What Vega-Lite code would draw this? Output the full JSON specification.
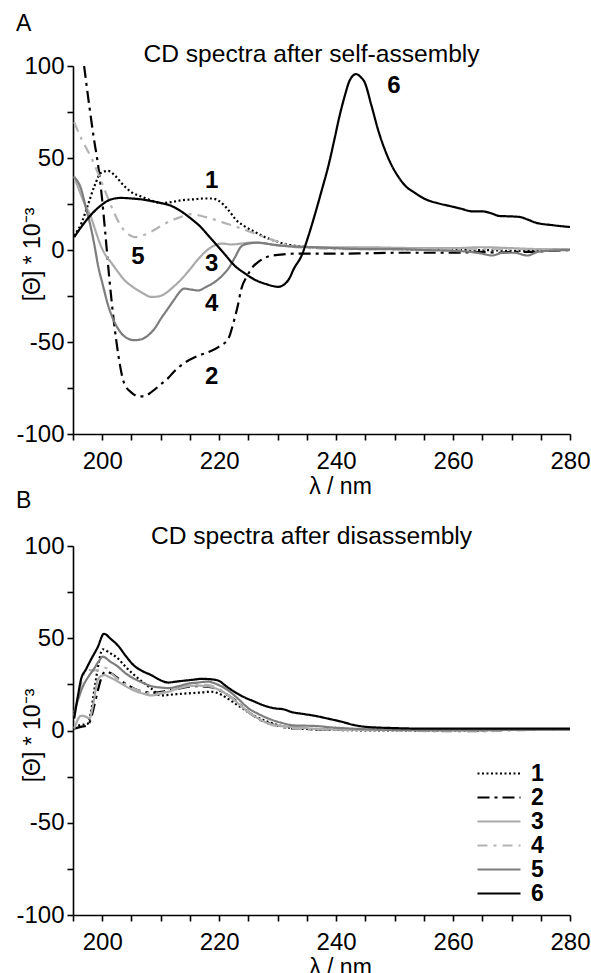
{
  "$schema": "https://vega.github.io/schema/vega-lite/v6.json",
  "padding": {"left": 15, "top": 13, "right": 5, "bottom": 0},
  "background": "white",
  "spacing": -8,
  "resolve": {"scale": {"color": "independent", "strokeDash": "independent"}, "legend": {"color": "independent", "strokeDash": "independent"}},
  "datasets": {
    "a": [
      {"s":"1","x":195.2,"y":7.7},{"s":"1","x":196.5,"y":15},{"s":"1","x":197.5,"y":24},{"s":"1","x":198.7,"y":35},{"s":"1","x":199.8,"y":42},{"s":"1","x":201,"y":43},{"s":"1","x":202.3,"y":40},{"s":"1","x":203.7,"y":35},{"s":"1","x":205.2,"y":31},{"s":"1","x":206.7,"y":29},{"s":"1","x":208.3,"y":27},{"s":"1","x":210,"y":25.5},{"s":"1","x":211.8,"y":26},{"s":"1","x":213.5,"y":27},{"s":"1","x":215.5,"y":27.5},{"s":"1","x":217.5,"y":28},{"s":"1","x":218.7,"y":28},{"s":"1","x":219.8,"y":27},{"s":"1","x":220.8,"y":24.5},{"s":"1","x":222,"y":20},{"s":"1","x":222.7,"y":17},{"s":"1","x":224.3,"y":13},{"s":"1","x":226,"y":10},{"s":"1","x":227.8,"y":7},{"s":"1","x":229.5,"y":5},{"s":"1","x":231,"y":3.5},{"s":"1","x":232.9,"y":2.3},{"s":"1","x":236,"y":1.5},{"s":"1","x":240,"y":1},{"s":"1","x":245,"y":0.8},{"s":"1","x":250,"y":0.5},{"s":"1","x":255,"y":0.3},{"s":"1","x":260,"y":0},{"s":"1","x":265,"y":0},{"s":"1","x":270,"y":-0.5},{"s":"1","x":275,"y":0},{"s":"1","x":280,"y":0},
      {"s":"2","x":196.9,"y":100},{"s":"2","x":197.8,"y":78},{"s":"2","x":198.6,"y":60},{"s":"2","x":199.3,"y":46},{"s":"2","x":199.9,"y":30},{"s":"2","x":200.5,"y":10},{"s":"2","x":201.2,"y":-15},{"s":"2","x":202,"y":-39},{"s":"2","x":202.8,"y":-58},{"s":"2","x":203.7,"y":-72},{"s":"2","x":205,"y":-77.5},{"s":"2","x":206.2,"y":-79.5},{"s":"2","x":207.2,"y":-79.5},{"s":"2","x":208.5,"y":-77},{"s":"2","x":210,"y":-73},{"s":"2","x":211.3,"y":-69.5},{"s":"2","x":212.3,"y":-66},{"s":"2","x":214,"y":-61.5},{"s":"2","x":216,"y":-58},{"s":"2","x":218.1,"y":-55.5},{"s":"2","x":220,"y":-52.5},{"s":"2","x":221.6,"y":-48},{"s":"2","x":222.4,"y":-40},{"s":"2","x":223.2,"y":-30},{"s":"2","x":223.8,"y":-21},{"s":"2","x":224.8,"y":-14},{"s":"2","x":225.8,"y":-9},{"s":"2","x":226.7,"y":-6.5},{"s":"2","x":228.4,"y":-3.5},{"s":"2","x":230.5,"y":-2.5},{"s":"2","x":232.9,"y":-2},{"s":"2","x":236,"y":-2},{"s":"2","x":240,"y":-2},{"s":"2","x":245,"y":-1.8},{"s":"2","x":250,"y":-1.5},{"s":"2","x":255,"y":-1.5},{"s":"2","x":260,"y":-1.5},{"s":"2","x":265,"y":-1},{"s":"2","x":268,"y":-1.5},{"s":"2","x":270,"y":-1},{"s":"2","x":273,"y":-1},{"s":"2","x":276,"y":-0.5},{"s":"2","x":280,"y":0},
      {"s":"3","x":195.2,"y":40},{"s":"3","x":196,"y":33},{"s":"3","x":197,"y":25},{"s":"3","x":198,"y":18.5},{"s":"3","x":198.9,"y":10},{"s":"3","x":199.8,"y":2},{"s":"3","x":200.6,"y":-3},{"s":"3","x":201.5,"y":-6.7},{"s":"3","x":202.6,"y":-11.5},{"s":"3","x":203.7,"y":-16},{"s":"3","x":205.2,"y":-20},{"s":"3","x":206.7,"y":-23},{"s":"3","x":208.4,"y":-25.5},{"s":"3","x":209.5,"y":-25.3},{"s":"3","x":210.6,"y":-24},{"s":"3","x":212,"y":-20.5},{"s":"3","x":213.5,"y":-16},{"s":"3","x":215,"y":-10.5},{"s":"3","x":216.4,"y":-5},{"s":"3","x":217.8,"y":-0.5},{"s":"3","x":219.2,"y":2.5},{"s":"3","x":220.5,"y":3.5},{"s":"3","x":222.1,"y":3},{"s":"3","x":223.8,"y":3.5},{"s":"3","x":225.5,"y":4},{"s":"3","x":228,"y":3.5},{"s":"3","x":230,"y":2.5},{"s":"3","x":233,"y":2},{"s":"3","x":236,"y":1.5},{"s":"3","x":240,"y":1.5},{"s":"3","x":245,"y":1.5},{"s":"3","x":250,"y":1.2},{"s":"3","x":255,"y":1},{"s":"3","x":260,"y":1},{"s":"3","x":265,"y":1.5},{"s":"3","x":270,"y":1},{"s":"3","x":275,"y":0.5},{"s":"3","x":280,"y":0.5},
      {"s":"4","x":195.2,"y":69.5},{"s":"4","x":196.5,"y":60},{"s":"4","x":198,"y":51},{"s":"4","x":199.5,"y":40},{"s":"4","x":201,"y":28},{"s":"4","x":202.2,"y":19},{"s":"4","x":203.2,"y":13},{"s":"4","x":204.3,"y":9},{"s":"4","x":205.5,"y":7},{"s":"4","x":206.8,"y":7.8},{"s":"4","x":208.4,"y":10},{"s":"4","x":210,"y":13},{"s":"4","x":211.8,"y":16},{"s":"4","x":213.5,"y":18},{"s":"4","x":215.2,"y":19.5},{"s":"4","x":217,"y":18.5},{"s":"4","x":218.7,"y":17},{"s":"4","x":220.6,"y":15},{"s":"4","x":222.6,"y":13},{"s":"4","x":224.8,"y":10.5},{"s":"4","x":227.2,"y":7.6},{"s":"4","x":230,"y":4.5},{"s":"4","x":233,"y":1.6},{"s":"4","x":236,"y":1},{"s":"4","x":240,"y":0.5},{"s":"4","x":250,"y":0.5},{"s":"4","x":260,"y":0.5},{"s":"4","x":270,"y":0.5},{"s":"4","x":280,"y":0.5},
      {"s":"5","x":195.2,"y":39.7},{"s":"5","x":196.4,"y":33},{"s":"5","x":197.2,"y":23},{"s":"5","x":198,"y":13},{"s":"5","x":198.7,"y":2},{"s":"5","x":199.3,"y":-8.7},{"s":"5","x":200.1,"y":-19},{"s":"5","x":201,"y":-30},{"s":"5","x":202,"y":-38.5},{"s":"5","x":203.2,"y":-45},{"s":"5","x":204.3,"y":-48},{"s":"5","x":205.5,"y":-49},{"s":"5","x":206.7,"y":-48.5},{"s":"5","x":207.8,"y":-46.5},{"s":"5","x":209,"y":-42.5},{"s":"5","x":210,"y":-37.5},{"s":"5","x":211.2,"y":-32},{"s":"5","x":212.3,"y":-27},{"s":"5","x":213.2,"y":-23},{"s":"5","x":214,"y":-21},{"s":"5","x":215.2,"y":-21.5},{"s":"5","x":216.4,"y":-22},{"s":"5","x":217.8,"y":-20},{"s":"5","x":219.2,"y":-17.5},{"s":"5","x":220.5,"y":-14},{"s":"5","x":221.6,"y":-10},{"s":"5","x":222.7,"y":-4},{"s":"5","x":223.8,"y":2},{"s":"5","x":225,"y":3.5},{"s":"5","x":226.7,"y":4},{"s":"5","x":229,"y":3},{"s":"5","x":231.9,"y":2},{"s":"5","x":236,"y":1.5},{"s":"5","x":240,"y":1},{"s":"5","x":245,"y":0.5},{"s":"5","x":250,"y":0.5},{"s":"5","x":255,"y":0},{"s":"5","x":260,"y":-0.5},{"s":"5","x":263,"y":-1},{"s":"5","x":265,"y":-2},{"s":"5","x":266.7,"y":-3},{"s":"5","x":268.5,"y":-1.5},{"s":"5","x":270.5,"y":-1.5},{"s":"5","x":272.7,"y":-3},{"s":"5","x":274.5,"y":-1},{"s":"5","x":277,"y":-0.3},{"s":"5","x":280,"y":0},
      {"s":"6","x":195.2,"y":7},{"s":"6","x":196.3,"y":12},{"s":"6","x":197.5,"y":17},{"s":"6","x":199.5,"y":23.5},{"s":"6","x":201.5,"y":27.5},{"s":"6","x":203.2,"y":28.3},{"s":"6","x":205,"y":28},{"s":"6","x":206.7,"y":27.5},{"s":"6","x":208.4,"y":26.6},{"s":"6","x":210.1,"y":25.5},{"s":"6","x":211.8,"y":24},{"s":"6","x":213.5,"y":21},{"s":"6","x":215.2,"y":17},{"s":"6","x":217,"y":12},{"s":"6","x":218.1,"y":8},{"s":"6","x":219.5,"y":3},{"s":"6","x":221,"y":-2.5},{"s":"6","x":222.7,"y":-8.7},{"s":"6","x":224.3,"y":-12.5},{"s":"6","x":226,"y":-16},{"s":"6","x":228,"y":-18.5},{"s":"6","x":230.1,"y":-20},{"s":"6","x":231.2,"y":-18.5},{"s":"6","x":231.9,"y":-16},{"s":"6","x":232.8,"y":-10},{"s":"6","x":234.1,"y":-3},{"s":"6","x":235.2,"y":7},{"s":"6","x":236.3,"y":18.5},{"s":"6","x":237.5,"y":32},{"s":"6","x":238.7,"y":46},{"s":"6","x":239.7,"y":60},{"s":"6","x":240.6,"y":73},{"s":"6","x":241.5,"y":84},{"s":"6","x":242.3,"y":92},{"s":"6","x":243.4,"y":95.6},{"s":"6","x":244.2,"y":94},{"s":"6","x":244.9,"y":91},{"s":"6","x":246,"y":79},{"s":"6","x":247.3,"y":64},{"s":"6","x":248.4,"y":54},{"s":"6","x":249.5,"y":46},{"s":"6","x":250.6,"y":40},{"s":"6","x":251.8,"y":35},{"s":"6","x":253.5,"y":31},{"s":"6","x":255.2,"y":27.7},{"s":"6","x":257.3,"y":25.5},{"s":"6","x":259.3,"y":24},{"s":"6","x":261.3,"y":22.5},{"s":"6","x":263.3,"y":21},{"s":"6","x":265,"y":21},{"s":"6","x":266.5,"y":20},{"s":"6","x":267.9,"y":18.5},{"s":"6","x":269.5,"y":18.3},{"s":"6","x":271.3,"y":18},{"s":"6","x":272.8,"y":16.5},{"s":"6","x":274,"y":15},{"s":"6","x":277,"y":13.5},{"s":"6","x":280,"y":12.5}
    ],
    "b": [
      {"s":"1","x":195.2,"y":1.5},{"s":"1","x":196,"y":2.7},{"s":"1","x":197.5,"y":3.6},{"s":"1","x":198,"y":9},{"s":"1","x":198.6,"y":21},{"s":"1","x":199.2,"y":33},{"s":"1","x":199.8,"y":42.5},{"s":"1","x":200.1,"y":44},{"s":"1","x":201.3,"y":42},{"s":"1","x":202.7,"y":39},{"s":"1","x":204,"y":34.5},{"s":"1","x":205.5,"y":30},{"s":"1","x":207,"y":26},{"s":"1","x":208.4,"y":22.7},{"s":"1","x":210,"y":19},{"s":"1","x":212,"y":19.5},{"s":"1","x":214,"y":20},{"s":"1","x":216.5,"y":20.5},{"s":"1","x":218.7,"y":21},{"s":"1","x":220.3,"y":19.5},{"s":"1","x":221.6,"y":17},{"s":"1","x":223.5,"y":13},{"s":"1","x":226,"y":8},{"s":"1","x":228.5,"y":4.5},{"s":"1","x":231.2,"y":2},{"s":"1","x":235,"y":0.8},{"s":"1","x":240,"y":0.3},{"s":"1","x":250,"y":0},{"s":"1","x":260,"y":0},{"s":"1","x":270,"y":0.3},{"s":"1","x":280,"y":0.5},
      {"s":"2","x":195.2,"y":1},{"s":"2","x":196.3,"y":2},{"s":"2","x":197.5,"y":2.7},{"s":"2","x":198.2,"y":8},{"s":"2","x":198.6,"y":13},{"s":"2","x":199.2,"y":21},{"s":"2","x":199.8,"y":28},{"s":"2","x":200.5,"y":32},{"s":"2","x":201.5,"y":31},{"s":"2","x":203,"y":27.5},{"s":"2","x":205,"y":23.5},{"s":"2","x":207,"y":21},{"s":"2","x":209,"y":20.5},{"s":"2","x":211,"y":21.5},{"s":"2","x":213.5,"y":23},{"s":"2","x":216,"y":24},{"s":"2","x":218.5,"y":23.5},{"s":"2","x":220.5,"y":21},{"s":"2","x":222.5,"y":17},{"s":"2","x":225,"y":10},{"s":"2","x":227.5,"y":5},{"s":"2","x":230,"y":2.5},{"s":"2","x":233,"y":1},{"s":"2","x":240,"y":0.5},{"s":"2","x":250,"y":0.3},{"s":"2","x":260,"y":0.3},{"s":"2","x":270,"y":0.3},{"s":"2","x":280,"y":0.5},
      {"s":"3","x":195.2,"y":1},{"s":"3","x":196.4,"y":8},{"s":"3","x":197.2,"y":7.5},{"s":"3","x":197.8,"y":6.5},{"s":"3","x":198.5,"y":15},{"s":"3","x":199.3,"y":28},{"s":"3","x":200.3,"y":30},{"s":"3","x":201.5,"y":28.5},{"s":"3","x":202.7,"y":26.5},{"s":"3","x":204,"y":24},{"s":"3","x":205.5,"y":21.6},{"s":"3","x":207,"y":20},{"s":"3","x":208.4,"y":19},{"s":"3","x":210,"y":20},{"s":"3","x":211.3,"y":21},{"s":"3","x":213,"y":22.8},{"s":"3","x":214.7,"y":24},{"s":"3","x":216.5,"y":24.3},{"s":"3","x":218,"y":24},{"s":"3","x":220,"y":22},{"s":"3","x":221.6,"y":19},{"s":"3","x":223.3,"y":14.5},{"s":"3","x":225,"y":10},{"s":"3","x":226.7,"y":6.5},{"s":"3","x":228.4,"y":3.8},{"s":"3","x":230.5,"y":2.5},{"s":"3","x":232.4,"y":2},{"s":"3","x":236,"y":1},{"s":"3","x":240,"y":0.5},{"s":"3","x":250,"y":0.3},{"s":"3","x":260,"y":0.3},{"s":"3","x":270,"y":0.3},{"s":"3","x":280,"y":0.5},
      {"s":"4","x":195.2,"y":8},{"s":"4","x":196,"y":20},{"s":"4","x":196.8,"y":30},{"s":"4","x":197.5,"y":33},{"s":"4","x":198.5,"y":32.5},{"s":"4","x":199.5,"y":33},{"s":"4","x":200.5,"y":34},{"s":"4","x":201.7,"y":30.5},{"s":"4","x":203,"y":27},{"s":"4","x":204.5,"y":24},{"s":"4","x":206,"y":22},{"s":"4","x":207.5,"y":20.5},{"s":"4","x":209,"y":20},{"s":"4","x":211,"y":21},{"s":"4","x":213,"y":23},{"s":"4","x":215,"y":24.5},{"s":"4","x":217,"y":25},{"s":"4","x":219,"y":24},{"s":"4","x":221,"y":20.5},{"s":"4","x":223,"y":15.5},{"s":"4","x":225,"y":10},{"s":"4","x":227,"y":6},{"s":"4","x":229,"y":3},{"s":"4","x":231,"y":1.8},{"s":"4","x":233,"y":1},{"s":"4","x":240,"y":0.5},{"s":"4","x":250,"y":0},{"s":"4","x":260,"y":-0.5},{"s":"4","x":265,"y":-0.5},{"s":"4","x":270,"y":0},{"s":"4","x":280,"y":0.5},
      {"s":"5","x":195.2,"y":10},{"s":"5","x":196,"y":18},{"s":"5","x":196.7,"y":24},{"s":"5","x":197.6,"y":29},{"s":"5","x":198.6,"y":33.5},{"s":"5","x":199.4,"y":37.5},{"s":"5","x":200.1,"y":40},{"s":"5","x":201.3,"y":37.5},{"s":"5","x":202.7,"y":34.6},{"s":"5","x":204,"y":31},{"s":"5","x":205.5,"y":28},{"s":"5","x":207,"y":25.8},{"s":"5","x":208.4,"y":24},{"s":"5","x":210,"y":23.3},{"s":"5","x":211.3,"y":23},{"s":"5","x":213,"y":24},{"s":"5","x":214.7,"y":25.4},{"s":"5","x":216.4,"y":26},{"s":"5","x":218,"y":26.5},{"s":"5","x":219.8,"y":24.8},{"s":"5","x":221.6,"y":21.6},{"s":"5","x":223.3,"y":17},{"s":"5","x":225,"y":12},{"s":"5","x":226.7,"y":9},{"s":"5","x":228.4,"y":6.5},{"s":"5","x":230.5,"y":4.3},{"s":"5","x":233,"y":2.7},{"s":"5","x":236,"y":2.5},{"s":"5","x":240,"y":1.5},{"s":"5","x":245,"y":0.7},{"s":"5","x":250,"y":0.3},{"s":"5","x":260,"y":0},{"s":"5","x":270,"y":0.3},{"s":"5","x":280,"y":0.5},
      {"s":"6","x":195.2,"y":6.5},{"s":"6","x":195.8,"y":18},{"s":"6","x":196.4,"y":28},{"s":"6","x":197.2,"y":33},{"s":"6","x":198,"y":38},{"s":"6","x":199.2,"y":45},{"s":"6","x":200.3,"y":52.4},{"s":"6","x":201.5,"y":49.5},{"s":"6","x":202.7,"y":46},{"s":"6","x":204,"y":40.5},{"s":"6","x":205.5,"y":35},{"s":"6","x":207,"y":32},{"s":"6","x":208.4,"y":30},{"s":"6","x":209.8,"y":27.5},{"s":"6","x":211.3,"y":26},{"s":"6","x":212.6,"y":26.5},{"s":"6","x":214,"y":27},{"s":"6","x":215.5,"y":27.5},{"s":"6","x":217,"y":28},{"s":"6","x":218.5,"y":27.8},{"s":"6","x":219.9,"y":27},{"s":"6","x":221.2,"y":24},{"s":"6","x":222.6,"y":21},{"s":"6","x":224.3,"y":18},{"s":"6","x":226,"y":15.7},{"s":"6","x":227.7,"y":13.5},{"s":"6","x":229.5,"y":12},{"s":"6","x":231,"y":11.5},{"s":"6","x":232.4,"y":10},{"s":"6","x":234.3,"y":9},{"s":"6","x":236.3,"y":8},{"s":"6","x":238.5,"y":6.5},{"s":"6","x":241,"y":4.7},{"s":"6","x":243,"y":3},{"s":"6","x":245,"y":2},{"s":"6","x":250,"y":1.3},{"s":"6","x":255,"y":1},{"s":"6","x":260,"y":1},{"s":"6","x":265,"y":1},{"s":"6","x":270,"y":1},{"s":"6","x":275,"y":1},{"s":"6","x":280,"y":1}
    ],
    "labelsA": [
      {"t":"1","x":218.7,"y":37.5},{"t":"2","x":218.7,"y":-69},{"t":"3","x":218.7,"y":-7.6},{"t":"4","x":218.7,"y":-29.3},{"t":"5","x":206.1,"y":-4},{"t":"6","x":249.9,"y":89}
    ]
  },
  "vconcat": [
    {
      "title": {"text": "A", "anchor": "start", "frame": "bounds", "fontSize": 23, "fontWeight": "normal", "font": "Liberation Sans", "color": "black", "baseline": "alphabetic", "offset": -12},
      "vconcat": [
        {
          "title": {"text": "CD spectra after self-assembly", "anchor": "middle", "frame": "group", "dx": -10, "fontSize": 24.6, "fontWeight": "normal", "font": "Liberation Sans", "color": "black", "baseline": "alphabetic", "offset": -33},
          "width": 497,
          "height": 368,
          "encoding": {
            "x": {"field": "x", "type": "quantitative", "scale": {"domain": [195, 280], "nice": false, "zero": false},
              "axis": {"title": "λ / nm", "values": [195,200,205,210,215,220,225,230,235,240,245,250,255,260,265,270,275,280], "labelExpr": "datum.value % 20 == 0 ? '' + datum.value : ''", "labelPadding": 9, "titleX": 267, "titleY": 59, "titleBaseline": "alphabetic", "titleAlign": "center"}},
            "y": {"field": "y", "type": "quantitative", "scale": {"domain": [-100, 100], "nice": false},
              "axis": {"title": "[Θ] * 10⁻³", "values": [-100,-75,-50,-25,0,25,50,75,100], "labelExpr": "datum.value % 50 == 0 ? '' + datum.value : ''", "labelPadding": 3, "titleX": -41, "titleY": 188, "titleBaseline": "middle", "titleAngle": -90, "titleAlign": "center"}}
          },
          "layer": [
            {
              "data": {"name": "a"},
              "mark": {"type": "line", "interpolate": "monotone", "strokeWidth": 2.2, "clip": true},
              "encoding": {
                "color": {"field": "s", "type": "nominal", "scale": {"domain": ["1","2","3","4","5","6"], "range": ["#000000","#000000","#aaaaaa","#b3b3b3","#7d7d7d","#000000"]}, "legend": null},
                "strokeDash": {"field": "s", "type": "nominal", "scale": {"domain": ["1","2","3","4","5","6"], "range": [[2,2.5],[12,5,3,5],[1,0],[10,6,3,6],[1,0],[1,0]]}, "legend": null},
                "detail": {"field": "s"}
              }
            },
            {
              "data": {"name": "labelsA"},
              "mark": {"type": "text", "fontSize": 24, "fontWeight": "bold", "font": "Liberation Sans", "color": "black", "align": "center", "baseline": "middle"},
              "encoding": {
                "text": {"field": "t"}
              }
            }
          ]
        }
      ]
    },
    {
      "title": {"text": "B", "anchor": "start", "frame": "bounds", "fontSize": 23, "fontWeight": "normal", "font": "Liberation Sans", "color": "black", "baseline": "alphabetic", "offset": -7},
      "vconcat": [
        {
          "title": {"text": "CD spectra after disassembly", "anchor": "middle", "frame": "group", "dx": -10, "fontSize": 24.6, "fontWeight": "normal", "font": "Liberation Sans", "color": "black", "baseline": "alphabetic", "offset": -35},
          "width": 497,
          "height": 369,
          "data": {"name": "b"},
          "mark": {"type": "line", "interpolate": "monotone", "strokeWidth": 2.2, "clip": true},
          "encoding": {
            "x": {"field": "x", "type": "quantitative", "scale": {"domain": [195, 280], "nice": false, "zero": false},
              "axis": {"title": "λ / nm", "values": [195,200,205,210,215,220,225,230,235,240,245,250,255,260,265,270,275,280], "labelExpr": "datum.value % 20 == 0 ? '' + datum.value : ''", "labelPadding": 9, "titleX": 267, "titleY": 59, "titleBaseline": "alphabetic", "titleAlign": "center"}},
            "y": {"field": "y", "type": "quantitative", "scale": {"domain": [-100, 100], "nice": false},
              "axis": {"title": "[Θ] * 10⁻³", "values": [-100,-75,-50,-25,0,25,50,75,100], "labelExpr": "datum.value % 50 == 0 ? '' + datum.value : ''", "labelPadding": 3, "titleX": -41, "titleY": 189, "titleBaseline": "middle", "titleAngle": -90, "titleAlign": "center"}},
            "color": {"field": "s", "type": "nominal", "scale": {"domain": ["1","2","3","4","5","6"], "range": ["#000000","#000000","#aaaaaa","#b3b3b3","#7d7d7d","#000000"]},
              "legend": {"orient": "none", "legendX": 403, "legendY": 216, "title": null, "symbolType": "stroke", "symbolSize": 1850, "symbolStrokeWidth": 2.2, "labelFontSize": 23, "labelFontWeight": "bold", "labelFont": "Liberation Sans", "labelColor": "black", "labelOffset": 9, "rowPadding": 0, "clipHeight": 23, "padding": 0}},
            "strokeDash": {"field": "s", "type": "nominal", "scale": {"domain": ["1","2","3","4","5","6"], "range": [[2,2.5],[12,5,3,5],[1,0],[10,6,3,6],[1,0],[1,0]]},
              "legend": {"orient": "none", "legendX": 403, "legendY": 216, "title": null, "symbolType": "stroke", "symbolSize": 1850, "symbolStrokeWidth": 2.2, "labelFontSize": 23, "labelFontWeight": "bold", "labelFont": "Liberation Sans", "labelColor": "black", "labelOffset": 9, "rowPadding": 0, "clipHeight": 23, "padding": 0}},
            "detail": {"field": "s"}
          }
        }
      ]
    }
  ],
  "config": {
    "view": {"stroke": null},
    "font": "Liberation Sans",
    "axis": {"grid": false, "domainColor": "black", "tickColor": "black", "domainWidth": 1.6, "tickWidth": 1.6, "tickSize": 6, "labelFont": "Liberation Sans", "labelFontSize": 24, "labelColor": "black", "labelFlush": false, "labelOverlap": false, "titleFont": "Liberation Sans", "titleFontSize": 23, "titleFontWeight": "normal", "titleColor": "black"}
  }
}
